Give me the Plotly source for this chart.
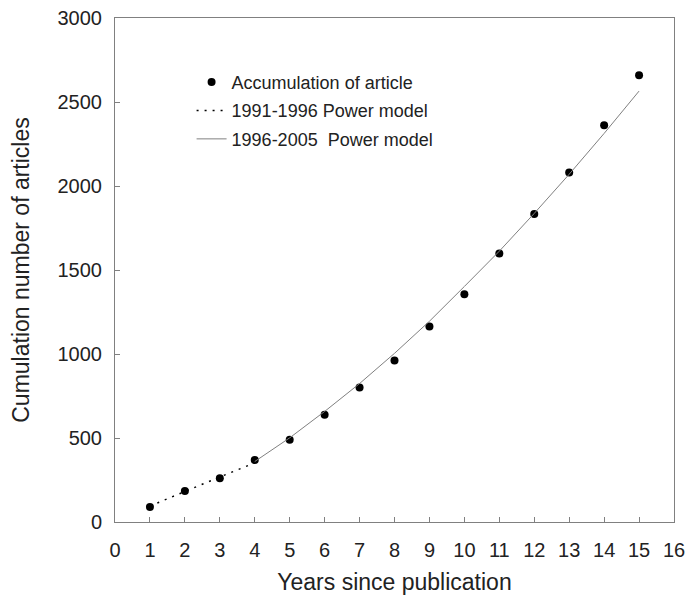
import plotly.graph_objects as go

years = [1, 2, 3, 4, 5, 6, 7, 8, 9, 10, 11, 12, 13, 14, 15]
articles = [90, 184, 261, 369, 490, 639, 800, 961, 1163, 1355, 1598, 1833, 2080, 2361, 2659]

early_x = [1, 2, 3, 4]
early_fit = [95, 183, 268, 352]

late_x = [4, 5, 6, 7, 8, 9, 10, 11, 12, 13, 14, 15]
late_fit = [360, 501, 658, 824, 1004, 1195, 1402, 1612, 1837, 2070, 2313, 2565]

FONT = "Liberation Sans, Arial, sans-serif"

fig = go.Figure()
fig.add_trace(go.Scatter(x=years, y=articles, mode="markers", name="Accumulation of article",
                         marker=dict(color="black", size=8), legendgroup="a"))
fig.add_trace(go.Scatter(x=early_x, y=early_fit, mode="lines", name="1991-1996 Power model",
                         line=dict(color="black", width=1.5, dash="2px,6px"), legendgroup="b"))
fig.add_trace(go.Scatter(x=late_x, y=late_fit, mode="lines", name="1996-2005  Power model",
                         line=dict(color="#808080", width=1), legendgroup="c"))

axis_common = dict(showline=True, linecolor="#808080", linewidth=1, mirror=True,
                   ticks="inside", ticklen=5, tickcolor="#808080", showgrid=False, zeroline=False,
                   automargin=False, ticklabeloverflow="allow",
                   tickfont=dict(family=FONT, size=20, color="#222"))

fig.update_layout(
    width=693, height=602,
    margin=dict(l=107, r=27, t=10, b=88),
    plot_bgcolor="white", paper_bgcolor="white",
    showlegend=True,
    legend=dict(x=0.137, y=0.909, xanchor="left", yanchor="top", tracegroupgap=2,
                font=dict(family=FONT, size=18, color="#222"), bgcolor="rgba(0,0,0,0)"),
    xaxis=dict(range=[0, 16], tickmode="array", tickvals=list(range(0, 17)),
               title=dict(text="Years since publication", font=dict(family=FONT, size=23, color="#222"), standoff=13),
               ticklabelstandoff=10, **axis_common),
    yaxis=dict(range=[0, 3000], tickmode="array", tickvals=[0, 500, 1000, 1500, 2000, 2500, 3000],
               title=dict(text="Cumulation number of articles", font=dict(family=FONT, size=23, color="#222"), standoff=26),
               ticklabelstandoff=8, **axis_common),
)

fig.write_html("out.html")
